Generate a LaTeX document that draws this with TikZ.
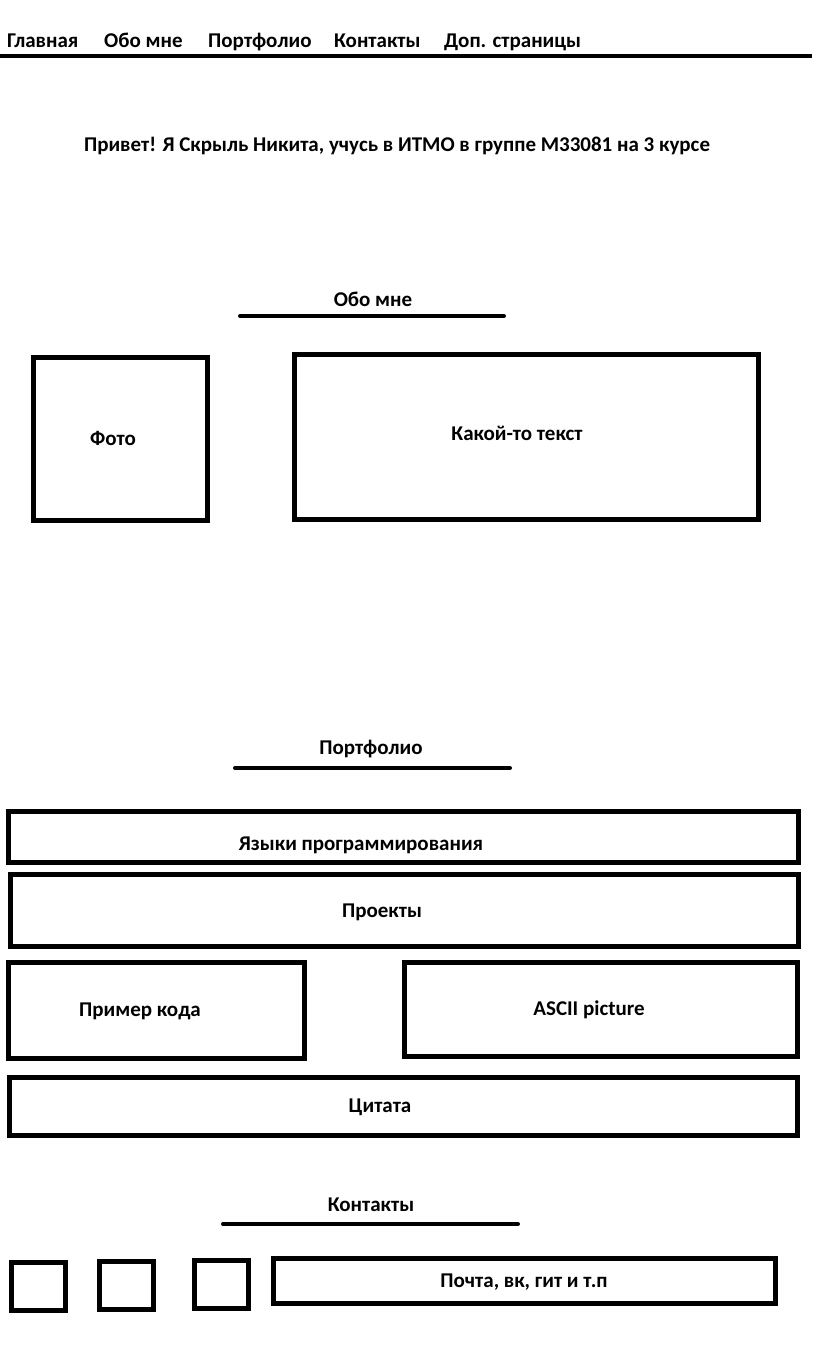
\documentclass[tikz,border=0pt]{standalone}
\usepackage{fontspec}
\setmainfont{Carlito}
\begin{document}
\begin{tikzpicture}[x=1pt,y=-1pt,
  box/.style={draw=black, line width=5pt, inner sep=0pt, fill=none},
  txt/.style={font=\fontsize{21}{24}\selectfont\bfseries, inner sep=0pt, text height=14pt, text depth=4pt, anchor=center},
  rule/.style={line width=4pt, line cap=round},
  navrule/.style={line width=4pt}]
\useasboundingbox (0,0) rectangle (812,1368);
\fill[white] (0,0) rectangle (812,1368);
% navigation
\node[txt, anchor=base west] (nav1) at (7,47) {Главная};
\node[txt, anchor=base west] (nav2) at (104,47) {Обо мне};
\node[txt, anchor=base west] (nav3) at (208,47) {Портфолио};
\node[txt, anchor=base west] (nav4) at (334,47) {Контакты};
\node[txt, anchor=base west] (nav5) at (444,47) {Доп. страницы};
\coordinate (navL) at (0,56);
\coordinate (navR) at (812,56);
\draw[navrule] (navL) -- (navR);
% greeting
\node[txt] (hello) at (397,146) {Привет! Я Скрыль Никита, учусь в ИТМО в группе M33081 на 3 курсе};
% about
\node[txt] (abouth) at (373,301) {Обо мне};
\coordinate (aboutL) at (240,316);
\coordinate (aboutR) at (504,316);
\draw[rule] (aboutL) -- (aboutR);
\node[box, minimum width=174pt, minimum height=163pt] (photo) at (120,438.5) {};
\node[txt] (phototxt) at (113,440) {Фото};
\node[box, minimum width=464pt, minimum height=165pt] (about) at (526,436.5) {};
\node[txt] (abouttxt) at (517,435) {Какой-то текст};
% portfolio
\node[txt] (porth) at (371,749) {Портфолио};
\coordinate (portL) at (235,768);
\coordinate (portR) at (510,768);
\draw[rule] (portL) -- (portR);
\node[box, minimum width=790pt, minimum height=51pt] (langs) at (403,836.5) {};
\node[txt] (langstxt) at (361,845) {Языки программирования};
\node[box, minimum width=788pt, minimum height=72pt] (proj) at (404,910) {};
\node[txt] (projtxt) at (382,912) {Проекты};
\node[box, minimum width=296pt, minimum height=96pt] (code) at (156,1010) {};
\node[txt] (codetxt) at (140,1011) {Пример кода};
\node[box, minimum width=393pt, minimum height=94pt] (ascii) at (600.5,1009) {};
\node[txt] (asciitxt) at (589,1010) {ASCII picture};
\node[box, minimum width=788pt, minimum height=58pt] (quote) at (403,1106) {};
\node[txt] (quotetxt) at (380,1107) {Цитата};
% contacts
\node[txt] (conth) at (371,1206) {Контакты};
\coordinate (contL) at (223,1224);
\coordinate (contR) at (518,1224);
\draw[rule] (contL) -- (contR);
\node[box, minimum width=54pt, minimum height=48pt] (ic1) at (38,1286) {};
\node[box, minimum width=54pt, minimum height=48pt] (ic2) at (126,1285) {};
\node[box, minimum width=54pt, minimum height=48pt] (ic3) at (221,1284) {};
\node[box, minimum width=502pt, minimum height=45pt] (links) at (524,1280.5) {};
\node[txt] (linkstxt) at (524,1282) {Почта, вк, гит и т.п};
\end{tikzpicture}
\end{document}
